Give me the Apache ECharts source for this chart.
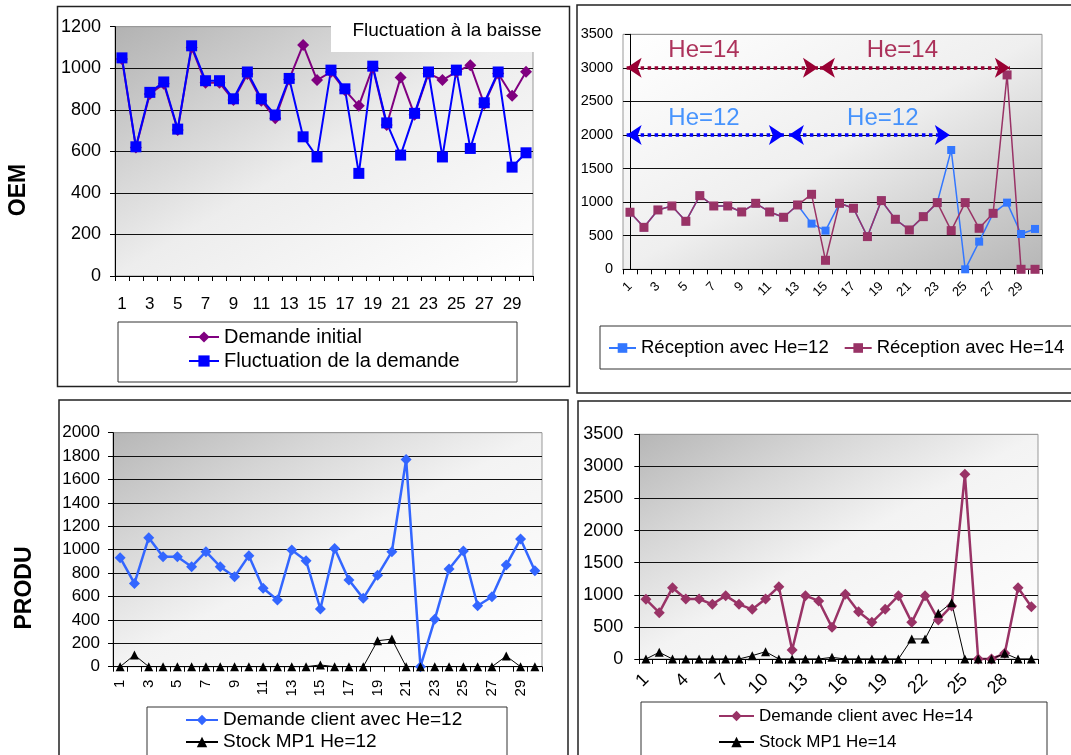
<!DOCTYPE html>
<html><head><meta charset="utf-8">
<script src="https://cdn.jsdelivr.net/npm/echarts@6/dist/echarts.min.js"></script>
<style>html,body{margin:0;padding:0;background:#fff;}#c{width:1071px;height:755px;}</style>
</head><body><div id="c"></div>
<script>
// ---------- DATA ----------
const categories = ['1','2','3','4','5','6','7','8','9','10','11','12','13','14','15','16','17','18','19','20','21','22','23','24','25','26','27','28','29','30'];

// Panel 1 (OEM, left)
const demandeInitial = [1045, 619, 876, 925, 703, 1100, 930, 930, 847, 972, 844, 759, 946, 1112, 943, 982, 895, 820, 1004, 727, 956, 776, 975, 943, 983, 1015, 828, 975, 868, 983];
const fluctuation    = [1050, 622, 884, 934, 707, 1108, 940, 940, 853, 982, 853, 775, 951, 670, 573, 991, 901, 494, 1010, 737, 582, 783, 982, 573, 991, 614, 834, 982, 524, 593];

// Panel 2 (OEM, right)
const receptionHe12 = [850, 625, 884, 943, 715, 1097, 943, 943, 854, 983, 854, 775, 958, 680, 576, 983, 909, 487, 1023, 745, 586, 784, 993, 1777, 0, 412, 834, 993, 526, 601];
const receptionHe14 = [850, 625, 884, 943, 715, 1097, 943, 943, 854, 983, 854, 775, 958, 1117, 134, 983, 909, 487, 1023, 745, 586, 784, 993, 576, 993, 611, 834, 2895, 0, 0];

// Panel 2 horizon annotations (x in category-index units, 0-based)
const heLabels   = ['He=14', 'He=14', 'He=12', 'He=12'];
const heLevels   = [3000, 3000, 2000, 2000];
const heTextX    = [5.3, 19.5, 5.3, 18.1];
const arrowStart = [-0.24, 13.6, -0.24, 11.38];
const arrowEnd   = [13.46, 27.2, 11.02, 22.9];

// Panel 3 (PRODU, left)
const demandeClientHe12 = [932, 712, 1103, 940, 940, 855, 983, 855, 769, 949, 670, 570, 997, 906, 493, 1011, 741, 584, 781, 983, 1772, 0, 405, 835, 989, 521, 598, 869, 1091, 821];
const stockMP1He12      = [0, 100, 0, 0, 0, 0, 0, 0, 0, 0, 0, 0, 0, 0, 15, 0, 0, 0, 222, 236, 0, 0, 0, 0, 0, 0, 0, 91, 0, 0];

// Panel 4 (PRODU, right)
const demandeClientHe14 = [930, 722, 1111, 935, 935, 852, 987, 852, 774, 935, 1127, 140, 987, 904, 493, 1007, 737, 571, 774, 987, 571, 987, 608, 826, 2877, 0, 0, 88, 1111, 815];
const stockMP1He14      = [0, 104, 0, 0, 0, 0, 0, 0, 52, 114, 0, 0, 0, 0, 26, 0, 0, 0, 0, 0, 312, 312, 711, 878, 0, 0, 0, 88, 0, 0];

// ---------- CHART ----------
const FONT = "'Liberation Sans', Arial, sans-serif";
const chart = echarts.init(document.getElementById('c'), null, {renderer: 'canvas'});

function grad(x, y, x2, y2, stops) {
  return new echarts.graphic.LinearGradient(x, y, x2, y2, stops.map(s => ({offset: s[0], color: s[1]})));
}
function splitColors(n, top) { const a = []; for (let i = 0; i < n - 1; i++) a.push('#111'); a.push(top); return a; }

function catAxis(gi, fs, interval, rotate, margin) {
  return {
    type: 'category', gridIndex: gi, data: categories, boundaryGap: true,
    axisLine: {show: true, lineStyle: {color: '#000', width: 1}},
    axisTick: {show: true, interval: 0, length: 5, lineStyle: {color: '#000'}},
    axisLabel: {interval: interval, rotate: rotate, fontSize: fs, margin: margin, color: '#000', fontFamily: FONT},
    splitLine: {show: false}
  };
}
function valAxis(gi, max, step, fs, margin) {
  const n = max / step + 1;
  return {
    type: 'value', gridIndex: gi, min: 0, max: max, interval: step,
    axisLine: {show: true, lineStyle: {color: '#000', width: 1}},
    axisTick: {show: true, length: 5, lineStyle: {color: '#000'}},
    axisLabel: {fontSize: fs, margin: margin, color: '#000', fontFamily: FONT, formatter: v => String(v)},
    splitLine: {show: true, lineStyle: {color: splitColors(n, '#999'), width: 1}}
  };
}
function lineSeries(name, xi, yi, data, color, symbol, size, lw) {
  return {
    name: name, type: 'line', xAxisIndex: xi, yAxisIndex: yi, data: data,
    symbol: symbol, symbolSize: size, showAllSymbol: true,
    lineStyle: {color: color, width: lw}, itemStyle: {color: color},
    emphasis: {disabled: true}
  };
}

const option = {
  animation: false,
  textStyle: {fontFamily: FONT},
  grid: [
    {left: 115, top: 26.7, width: 418, height: 249.3, show: true, borderColor: '#999', borderWidth: 1,
     backgroundColor: grad(0, 0, 0.524, 1.476, [[0, '#b2b2b2'], [0.25, '#cfcfcf'], [0.5, '#ededed'], [1, '#ffffff']])},
    {left: 623, top: 34.3, width: 419, height: 235, show: true, borderColor: '#999', borderWidth: 1,
     backgroundColor: grad(1, 1, 0.521, -0.521, [[0, '#b6b6b6'], [0.25, '#d2d2d2'], [0.5, '#efefef'], [1, '#ffffff']])},
    {left: 113, top: 432.7, width: 429, height: 234, show: true, borderColor: '#999', borderWidth: 1,
     backgroundColor: grad(0, 0, 0.459, 1.541, [[0, '#b6b6b6'], [0.25, '#d6d6d6'], [0.5, '#f3f3f3'], [1, '#ffffff']])},
    {left: 639.3, top: 434.3, width: 398.7, height: 224.7, show: true, borderColor: '#999', borderWidth: 1,
     backgroundColor: grad(0, 0, 0.482, 1.518, [[0, '#b6b6b6'], [0.25, '#d6d6d6'], [0.5, '#f3f3f3'], [1, '#ffffff']])}
  ],
  xAxis: [
    catAxis(0, 17, 1, 0, 20),
    catAxis(1, 13, 1, 45, 15),
    catAxis(2, 15, 1, 90, 13),
    catAxis(3, 18, 2, 45, 18),
    {type: 'value', gridIndex: 1, min: -0.5, max: 29.5, show: false}
  ],
  yAxis: [
    valAxis(0, 1200, 200, 18, 14),
    valAxis(1, 3500, 500, 14.5, 10),
    valAxis(2, 2000, 200, 17, 13),
    valAxis(3, 3500, 500, 18, 16)
  ],
  legend: [
    {left: 188, top: 327, orient: 'vertical', padding: 0, itemWidth: 30, itemHeight: 14, itemGap: 4,
     textStyle: {fontSize: 20, lineHeight: 20, color: '#000'}, selectedMode: false,
     data: ['Demande initial', 'Fluctuation de la demande']},
    {left: 608, top: 338, orient: 'horizontal', padding: 0, itemWidth: 27, itemHeight: 12, itemGap: 15,
     textStyle: {fontSize: 18.5, lineHeight: 20, color: '#000'}, selectedMode: false,
     data: ['Réception avec He=12', 'Réception avec He=14']},
    {left: 185, top: 710, orient: 'vertical', padding: 0, itemWidth: 32, itemHeight: 13, itemGap: 2,
     textStyle: {fontSize: 19, lineHeight: 20, color: '#000'}, selectedMode: false,
     data: ['Demande client avec He=12', 'Stock MP1 He=12']},
    {left: 718, top: 706, orient: 'vertical', padding: 0, itemWidth: 35, itemHeight: 13, itemGap: 6,
     textStyle: {fontSize: 17, lineHeight: 20, color: '#000'}, selectedMode: false,
     data: ['Demande client avec He=14', 'Stock MP1 He=14']}
  ],
  series: [
    lineSeries('Demande initial', 0, 0, demandeInitial, '#800080', 'diamond', 12, 2),
    lineSeries('Fluctuation de la demande', 0, 0, fluctuation, '#0000ff', 'rect', 11, 2),
    lineSeries('Réception avec He=12', 1, 1, receptionHe12, '#3377ff', 'rect', 8, 1.5),
    lineSeries('Réception avec He=14', 1, 1, receptionHe14, '#993366', 'rect', 9, 1.5),
    {
      name: 'horizons', type: 'scatter', xAxisIndex: 4, yAxisIndex: 1, symbolSize: 0, silent: true, z: 5,
      data: heTextX.map((x, i) => ({
        value: [x, heLevels[i]],
        label: {show: true, position: 'top', distance: 5, formatter: heLabels[i],
                color: heLabels[i] === 'He=14' ? '#990033' : '#1a7aff', fontSize: 24, fontFamily: FONT}
      })),
      markLine: {
        silent: true, animation: false, symbol: ['arrow', 'arrow'], symbolSize: 15,
        label: {show: false}, emphasis: {disabled: true},
        data: arrowStart.map((s, i) => {
          const c = heLabels[i] === 'He=14' ? '#990033' : '#0000ff';
          return [
            {coord: [s, heLevels[i]], lineStyle: {color: c, width: 3.5, type: [3.5, 3.5]}, itemStyle: {color: c}},
            {coord: [arrowEnd[i], heLevels[i]]}
          ];
        })
      }
    },
    lineSeries('Demande client avec He=12', 2, 2, demandeClientHe12, '#3366ff', 'diamond', 11, 2.5),
    lineSeries('Stock MP1 He=12', 2, 2, stockMP1He12, '#000000', 'triangle', 9, 1),
    lineSeries('Demande client avec He=14', 3, 3, demandeClientHe14, '#993366', 'diamond', 11, 2.5),
    lineSeries('Stock MP1 He=14', 3, 3, stockMP1He14, '#000000', 'triangle', 9, 1)
  ],
  graphic: [
    // panel frames
    {type: 'rect', shape: {x: 57.5, y: 6.5, width: 512, height: 380}, style: {fill: 'none', stroke: '#222', lineWidth: 1.5}, silent: true},
    {type: 'rect', shape: {x: 577, y: 5, width: 510, height: 388}, style: {fill: 'none', stroke: '#222', lineWidth: 1.5}, silent: true},
    {type: 'rect', shape: {x: 59, y: 400, width: 509, height: 380}, style: {fill: 'none', stroke: '#222', lineWidth: 1.5}, silent: true},
    {type: 'rect', shape: {x: 578, y: 401, width: 510, height: 380}, style: {fill: 'none', stroke: '#222', lineWidth: 1.5}, silent: true},
    // legend frames
    {type: 'rect', shape: {x: 118, y: 322, width: 399, height: 60}, style: {fill: 'none', stroke: '#333', lineWidth: 1}, silent: true},
    {type: 'rect', shape: {x: 600, y: 326, width: 490, height: 43}, style: {fill: 'none', stroke: '#333', lineWidth: 1}, silent: true},
    {type: 'rect', shape: {x: 147, y: 707, width: 360, height: 70}, style: {fill: 'none', stroke: '#333', lineWidth: 1}, silent: true},
    {type: 'rect', shape: {x: 641, y: 702, width: 406, height: 70}, style: {fill: 'none', stroke: '#333', lineWidth: 1}, silent: true},
    // side labels
    {type: 'text', x: 19, y: 190, rotation: Math.PI / 2, silent: true,
     style: {text: 'OEM', font: 'bold 23px ' + FONT, fill: '#000', align: 'center', verticalAlign: 'middle', textAlign: 'center', textVerticalAlign: 'middle'}},
    {type: 'text', x: 25, y: 588, rotation: Math.PI / 2, silent: true,
     style: {text: 'PRODU', font: 'bold 23px ' + FONT, fill: '#000', align: 'center', verticalAlign: 'middle', textAlign: 'center', textVerticalAlign: 'middle'}},
    // title box
    {type: 'rect', z: 100, silent: true, shape: {x: 331, y: 12, width: 230, height: 40}, style: {fill: '#fff', stroke: 'none'}},
    {type: 'text', z: 101, silent: true, x: 447, y: 31,
     style: {text: 'Fluctuation à la baisse', font: '19px ' + FONT, fill: '#000', align: 'center', verticalAlign: 'middle', textAlign: 'center', textVerticalAlign: 'middle'}}
  ]
};
chart.setOption(option);
</script>
</body></html>
